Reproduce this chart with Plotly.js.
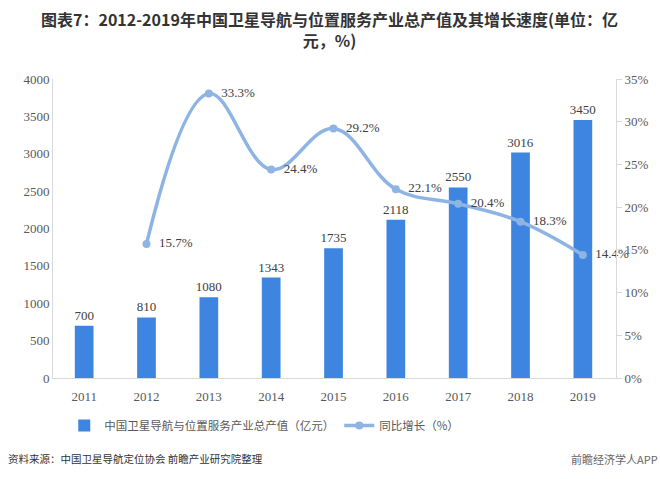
<!DOCTYPE html>
<html><head><meta charset="utf-8">
<script src="https://cdn.plot.ly/plotly-3.0.1.min.js"></script>
<style>html,body{margin:0;padding:0;background:#fff}#chart{width:660px;height:479px}</style>
</head><body><div id="chart"></div>
<script>
const years = ['2011','2012','2013','2014','2015','2016','2017','2018','2019'];
const outputValue = [700, 810, 1080, 1343, 1735, 2118, 2550, 3016, 3450];
const growthYears = ['2012','2013','2014','2015','2016','2017','2018','2019'];
const growthRate = [15.7, 33.3, 24.4, 29.2, 22.1, 20.4, 18.3, 14.4];
const barName = '中国卫星导航与位置服务产业总产值（亿元）';
const lineName = '同比增长（%）';
const titleLine1 = '图表7：2012-2019年中国卫星导航与位置服务产业总产值及其增长速度(单位：亿';
const titleLine2 = '元，%)';

const serif = 'Liberation Serif, Times New Roman, serif';
const cjk = 'Noto Sans CJK SC, sans-serif';

const traces = [
  {
    type: 'bar', x: years, y: outputValue, name: barName,
    marker: {color: '#3d85e0'}, width: 0.3,
    text: outputValue.map(String), textposition: 'outside', cliponaxis: false,
    constraintext: 'none',
    textfont: {family: serif, size: 13, color: '#404040'}
  },
  {
    type: 'scatter', mode: 'lines+markers+text', x: growthYears,
    y: growthRate.map(v => v / 100), yaxis: 'y2', name: lineName,
    line: {color: '#8db4e3', width: 3.5, shape: 'spline', smoothing: 1.1},
    marker: {color: '#8db4e3', size: 8},
    text: growthRate.map(v => '\u00a0\u00a0' + v.toFixed(1) + '%'), textposition: 'middle right',
    cliponaxis: false,
    textfont: {family: serif, size: 13, color: '#404040'}
  }
];

const layout = {
  width: 660, height: 479,
  margin: {l: 53, r: 44, t: 79, b: 101},
  paper_bgcolor: '#fff', plot_bgcolor: '#fff',
  showlegend: true,
  xaxis: {
    type: 'category', showline: true, linecolor: '#d9d9d9', linewidth: 1,
    ticks: '', showgrid: false, zeroline: false, ticklabelstandoff: 6,
    tickfont: {family: serif, size: 13, color: '#595959'}
  },
  yaxis: {
    range: [0, 4000], dtick: 500, showgrid: false, zeroline: false,
    showline: true, linecolor: '#d9d9d9', ticks: '',
    tickfont: {family: serif, size: 13, color: '#595959'}
  },
  yaxis2: {
    overlaying: 'y', side: 'right', range: [0, 0.35], dtick: 0.05,
    tickformat: '.0%', showgrid: false, zeroline: false,
    showline: true, linecolor: '#d9d9d9', ticks: 'outside', ticklen: 5, tickcolor: '#d9d9d9',
    tickfont: {family: serif, size: 13, color: '#595959'}
  },
  legend: {
    orientation: 'h', x: 0.02, xanchor: 'left', y: -0.11, yanchor: 'top',
    font: {family: cjk, size: 11.5, color: '#595959'}, itemwidth: 30
  },
  annotations: [
    {xref: 'paper', yref: 'paper', x: 0.492, y: 1.167, xanchor: 'center', yanchor: 'middle',
     text: '<b>' + titleLine1 + '<br>' + titleLine2 + '</b>', showarrow: false, align: 'center',
     font: {family: cjk, size: 16, color: '#333'}},
    {xref: 'paper', yref: 'paper', x: -0.083, y: -0.27, xanchor: 'left', yanchor: 'middle',
     text: '资料来源：中国卫星导航定位协会 前瞻产业研究院整理', showarrow: false,
     font: {family: cjk, size: 10.5, color: '#333'}},
    {xref: 'paper', yref: 'paper', x: 1.078, y: -0.27, xanchor: 'right', yanchor: 'middle',
     text: '前瞻经济学人APP', showarrow: false,
     font: {family: cjk, size: 11, color: '#666'}}
  ]
};

Plotly.newPlot('chart', traces, layout, {displayModeBar: false, staticPlot: true});
</script></body></html>
